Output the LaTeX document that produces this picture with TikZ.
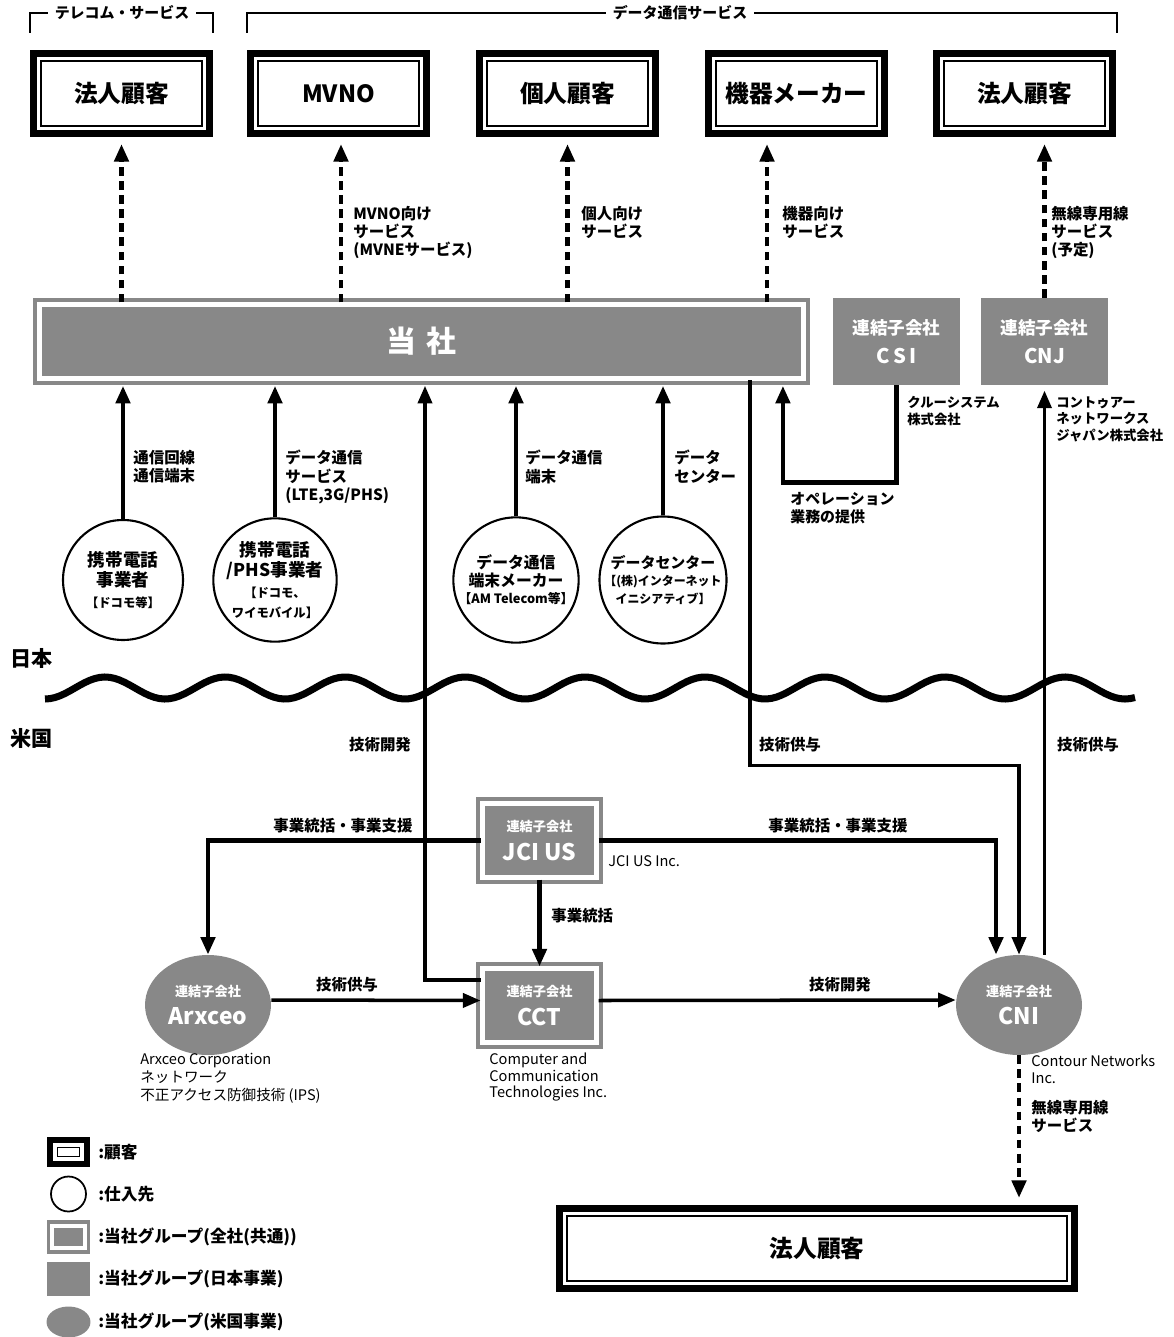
\documentclass[tikz,border=0pt]{standalone}
\usepackage{fontspec}
\setmainfont{Noto Sans CJK JP}
\usetikzlibrary{arrows.meta,shapes.geometric}
\definecolor{grp}{HTML}{888888}
\tikzset{
  custbox/.style={draw, line width=4pt, minimum width=3.52cm, minimum height=1.6cm,
    inner sep=0pt, font=\fontsize{13.5}{16}\selectfont\bfseries,
    path picture={\draw[line width=0.9pt]
      ([shift={(7.5,7.5)}]path picture bounding box.north west) rectangle
      ([shift={(-7.5,-7.5)}]path picture bounding box.south east);}},
  grpbox/.style={fill=grp, draw=grp, double=white, double distance=3pt, line width=2pt,
    minimum width=2.29cm, minimum height=1.49cm, text=white, align=center, inner sep=0pt,
    font=\bfseries},
  jpbox/.style={fill=grp, minimum width=2.54cm, minimum height=1.74cm, text=white,
    align=center, inner sep=0pt, font=\fontsize{10}{16.5}\selectfont\bfseries},
  usbox/.style={ellipse, fill=grp, minimum width=2.52cm, minimum height=2cm, text=white,
    align=center, inner sep=0pt, font=\bfseries},
  supplier/.style={circle, draw, line width=1.2pt, minimum size=2.4cm, inner sep=0pt,
    align=center, font=\fontsize{10}{11.5}\selectfont\bfseries},
  lbl/.style={anchor=north west, align=left, inner sep=0pt,
    font=\fontsize{8.8}{10.3}\selectfont\bfseries},
  elbl/.style={anchor=north west, align=left, inner sep=0pt,
    font=\fontsize{8.3}{9.2}\selectfont},
  clbl/.style={inner sep=0pt, font=\fontsize{8.8}{10.3}\selectfont\bfseries},
  brk/.style={fill=white, inner xsep=4pt, inner ysep=1pt, font=\fontsize{8.5}{10}\selectfont\bfseries},
  legtxt/.style={anchor=west, inner sep=0pt, font=\fontsize{9.5}{11}\selectfont\bfseries},
  arr/.style={line width=2.6pt, -{Triangle[width=8pt,length=10pt]}},
  arrthin/.style={line width=2pt, -{Triangle[width=8pt,length=10pt]}},
  dasharr/.style={line width=2.8pt, dash pattern=on 5pt off 3pt,
    -{Triangle[width=8pt,length=10pt]}, shorten >=4pt}
}
\begin{document}
\begin{tikzpicture}[x=0.02cm,y=-0.02cm]
\useasboundingbox (0,0) rectangle (1173,1337);

% service brackets
\draw[line width=0.8pt] (30,33) -- (30,13) -- (213,13) -- (213,33);
\draw[line width=0.8pt] (247,33) -- (247,13) -- (1117,13) -- (1117,33);
\node[brk] (telecom) at (122,13) {テレコム・サービス};
\node[brk] (datasvc) at (680,13) {データ通信サービス};

% customers
\node[custbox] (houjin1) at (121.5,93.5) {法人顧客};
\node[custbox] (mvno) at (338.5,93.5) {MVNO};
\node[custbox] (kojin) at (567.5,93.5) {個人顧客};
\node[custbox] (kiki) at (796.5,93.5) {機器メーカー};
\node[custbox] (houjin2) at (1024.5,93.5) {法人顧客};

% group companies in Japan
\node[grpbox, minimum width=15.29cm] (tosha) at (421.5,341.5)
  {\fontsize{17}{20}\selectfont 当\hspace{0.35em}社};
\node[jpbox] (csi) at (896.5,341.5) {連結子会社\\{\fontsize{11.5}{14}\selectfont C\,S\,I}};
\node[jpbox] (cnj) at (1044.5,341.5) {連結子会社\\{\fontsize{11.5}{14}\selectfont CNJ}};

% services to customers
\draw[dasharr] (tosha.north -| houjin1) -- (houjin1.south);
\draw[dasharr] ([xshift=0.05cm]tosha.north -| mvno) -- ([xshift=0.05cm]mvno.south);
\draw[dasharr] (tosha.north -| kojin) -- (kojin.south);
\draw[dasharr] ([xshift=-0.59cm]kiki.south |- tosha.north) -- ([xshift=-0.59cm]kiki.south);
\draw[dasharr] (cnj.north) -- (cnj.north |- houjin2.south);
\node[lbl] (mvnolbl) at (353,206) {MVNO向け\\サービス\\(MVNEサービス)};
\node[lbl] (kojinlbl) at (581,206) {個人向け\\サービス};
\node[lbl] (kikilbl) at (782,206) {機器向け\\サービス};
\node[lbl] (musenlbl) at (1051,206) {無線専用線\\サービス\\(予定)};

% suppliers
\node[supplier] (c1) at (123,580) {携帯電話\\事業者\\{\fontsize{7}{9}\selectfont 【ドコモ等】}};
\node[supplier] (c2) at (275,580) {携帯電話\\/PHS事業者\\{\fontsize{7}{8.5}\selectfont 【ドコモ、}\\{\fontsize{7}{8.5}\selectfont ワイモバイル】}};
\node[supplier, font=\fontsize{9}{10}\selectfont\bfseries] (c3) at (516,580)
  {データ通信\\端末メーカー\\{\fontsize{7.3}{9}\selectfont 【AM Telecom等】}};
\node[supplier, font=\fontsize{8.5}{10}\selectfont\bfseries] (c4) at (663,580)
  {データセンター\\{\fontsize{6.8}{9}\selectfont 【(株)インターネット}\\{\fontsize{6.8}{8.5}\selectfont イニシアティブ】}};
\draw[arr, shorten >=3pt] (c1.north) -- (c1.north |- tosha.south);
\draw[arr, shorten >=3pt] (c2.north) -- (c2.north |- tosha.south);
\draw[arr, shorten >=3pt] (c3.north) -- (c3.north |- tosha.south);
\draw[arr, shorten >=3pt] (c4.north) -- (c4.north |- tosha.south);
\node[lbl] (l1) at (133,450) {通信回線\\通信端末};
\node[lbl] (l2) at (285,450) {データ通信\\サービス\\(LTE,3G/PHS)};
\node[lbl] (l3) at (525,450) {データ通信\\端末};
\node[lbl] (l4) at (674,450) {データ\\センター};

% CSI and CNJ
\draw[arr, shorten >=3pt] (csi.south) -- ++(0,97) -| ([xshift=7.23cm]tosha.south);
\node[lbl, font=\fontsize{7.6}{9.6}\selectfont\bfseries] (csilbl) at (907,396) {クルーシステム\\株式会社};
\node[lbl, font=\fontsize{7.6}{9.6}\selectfont\bfseries] (cnjlbl) at (1056,396) {コントゥアー\\ネットワークス\\ジャパン株式会社};
\node[lbl, font=\fontsize{8.5}{10.3}\selectfont\bfseries] (oplbl) at (790,492) {オペレーション\\業務の提供};

% Japan / US border
\draw[line width=4pt] plot[domain=45:1135, samples=220] (\x,{688+11*cos(3*(\x-45))});
\node[anchor=west, inner sep=0pt, font=\fontsize{12}{14}\selectfont\bfseries] (japan) at (10,658) {日本};
\node[anchor=west, inner sep=0pt, font=\fontsize{12}{14}\selectfont\bfseries] (usa) at (10,738) {米国};

% group companies in US
\node[grpbox] (jci) at (539.5,840.5)
  {{\fontsize{7.5}{9}\selectfont 連結子会社}\\[4pt]{\fontsize{13}{14}\selectfont JCI US}};
\node[grpbox] (cct) at (539.5,1005.5)
  {{\fontsize{7.5}{9}\selectfont 連結子会社}\\[4pt]{\fontsize{13}{14}\selectfont CCT}};
\node[usbox] (arx) at (208,1005)
  {{\fontsize{7.5}{9}\selectfont 連結子会社}\\[4pt]{\fontsize{13}{14}\selectfont Arxceo}};
\node[usbox] (cni) at (1019,1005)
  {{\fontsize{7.5}{9}\selectfont 連結子会社}\\[4pt]{\fontsize{13}{14}\selectfont CNI}};

% technology flows across the border
\draw[arrthin, shorten >=3pt] ([yshift=0.51cm]cct.west) -| ([xshift=0.07cm]tosha.south);
\draw[arrthin] ([xshift=6.57cm]tosha.south) -- ++(0,385) -| (cni.north);
\draw[arrthin, shorten >=3pt] (cnj.south |- cni.north) -- (cnj.south);
\node[clbl] (gk1) at (380,745) {技術開発};
\node[clbl] (gk2) at (790,745) {技術供与};
\node[clbl] (gk3) at (1088,745) {技術供与};

% flows inside US
\draw[arr] (jci.west) -| (arx.north);
\draw[arr] (jci.east) -| ([xshift=-0.46cm]cni.north);
\draw[arr] (jci.south) -- (cct.north);
\draw[arrthin] ([yshift=0.1cm]arx.east) -- ([yshift=0.1cm]cct.west);
\draw[arrthin] ([yshift=0.1cm]cct.east) -- ([yshift=0.1cm]cni.west);
\node[clbl] (sg1) at (343,826) {事業統括・事業支援};
\node[clbl] (sg2) at (838,826) {事業統括・事業支援};
\node[clbl, anchor=west] (sg3) at (551,916) {事業統括};
\node[clbl] (gk4) at (347,985) {技術供与};
\node[clbl] (gk5) at (840,985) {技術開発};
\node[elbl, anchor=west] (jcilbl) at (608,861) {JCI US Inc.};
\node[elbl, font=\fontsize{8.3}{10.3}\selectfont] (arxlbl) at (140,1053)
  {Arxceo Corporation\\ネットワーク\\不正アクセス防御技術 (IPS)};
\node[elbl] (cctlbl) at (489,1053) {Computer and\\Communication\\Technologies Inc.};

% wireless line service
\node[custbox, minimum width=10.3cm] (houjin3) at (817,1248.5) {法人顧客};
\draw[dasharr] (cni.south) -- (cni.south |- houjin3.north);
\node[elbl] (cnilbl) at (1031,1055) {Contour Networks\\Inc.};
\node[lbl] (cnisvc) at (1031,1100) {無線専用線\\サービス};

% legend
\node[custbox, line width=3.5pt, minimum width=0.74cm, minimum height=0.48cm] (lg1) at (68.5,1152) {};
\node[draw, circle, line width=1pt, minimum size=0.7cm, inner sep=0pt] (lg2) at (68.5,1194) {};
\node[grpbox, line width=1.8pt, double distance=2.5pt, minimum width=0.65cm, minimum height=0.45cm] (lg3) at (68.5,1237) {};
\node[fill=grp, minimum width=0.86cm, minimum height=0.68cm, inner sep=0pt] (lg4) at (68.5,1279) {};
\node[ellipse, fill=grp, minimum width=0.88cm, minimum height=0.62cm, inner sep=0pt] (lg5) at (68.5,1322) {};
\node[legtxt] at (98,1152) {:顧客};
\node[legtxt] at (98,1194) {:仕入先};
\node[legtxt] at (98,1237) {:当社グループ(全社(共通))};
\node[legtxt] at (98,1279) {:当社グループ(日本事業)};
\node[legtxt] at (98,1322) {:当社グループ(米国事業)};
\end{tikzpicture}
\end{document}
